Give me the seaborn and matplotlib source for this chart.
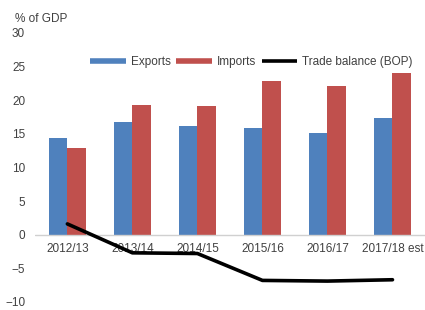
import pandas as pd
import matplotlib
matplotlib.use('Agg')
import matplotlib.pyplot as plt
import matplotlib.transforms as mtransforms
from matplotlib.lines import Line2D
import seaborn as sns

# data (% of GDP)
years = ['2012/13', '2013/14', '2014/15', '2015/16', '2016/17', '2017/18 est']
exports = [14.4, 16.7, 16.1, 15.9, 15.1, 17.4]
imports = [12.9, 19.3, 19.1, 22.8, 22.1, 24.1]
trade_balance = [1.6, -2.7, -2.8, -6.8, -6.9, -6.7]

blue = '#4F81BD'
red = '#C0504D'
txt = '#404040'

sns.set_style('white')
plt.rcParams['font.family'] = ['Liberation Sans', 'DejaVu Sans']

bars = pd.DataFrame({
    'year': years * 2,
    'value': exports + imports,
    'series': ['Exports'] * len(years) + ['Imports'] * len(years),
})
line = pd.DataFrame({'year': years, 'value': trade_balance})

fig = plt.figure(figsize=(4.25, 3.1), dpi=100)
ax = fig.add_axes([0.082, 0.026, 0.918, 0.868])

sns.barplot(data=bars, x='year', y='value', hue='series', order=years,
            palette=[blue, red], width=0.58, gap=0, saturation=1,
            linewidth=0, legend=False, ax=ax)
sns.lineplot(data=line, x='year', y='value', color='black', linewidth=2.6,
             ax=ax, zorder=5)

ax.set_ylim(-10, 30)
ax.set_yticks(range(-10, 31, 5))
ax.set_xlim(-0.5, len(years) - 0.5)
ax.axhline(0, color='#d0d0d0', linewidth=1, zorder=1)
for s in ax.spines.values():
    s.set_visible(False)
ax.set_xlabel('')
ax.set_ylabel('')
ax.tick_params(axis='x', length=0, labelsize=8.5, labelcolor=txt)
ax.tick_params(axis='y', length=0, pad=7, labelsize=8.5, labelcolor=txt)
# x labels sit just under the zero line, not at the bottom of the axes
for t in ax.xaxis.get_major_ticks():
    t.label1.set_transform(ax.transData
                           + mtransforms.ScaledTranslation(0, -6 / 72, fig.dpi_scale_trans))
    t.label1.set_verticalalignment('top')

fig.text(0.035, 0.94, '% of GDP', fontsize=8.5, color=txt, ha='left', va='center')

handles = [Line2D([], [], color=blue, linewidth=4, solid_capstyle='butt'),
           Line2D([], [], color=red, linewidth=4, solid_capstyle='butt'),
           Line2D([], [], color='black', linewidth=2.6, solid_capstyle='butt')]
ax.legend(handles, ['Exports', 'Imports', 'Trade balance (BOP)'],
          loc='center', bbox_to_anchor=(0.555, 0.89), ncol=3, frameon=False,
          fontsize=8.5, handlelength=3, handletextpad=0.4, columnspacing=0.5,
          labelcolor=txt, borderaxespad=0)

fig.savefig('out.png', dpi=100)
